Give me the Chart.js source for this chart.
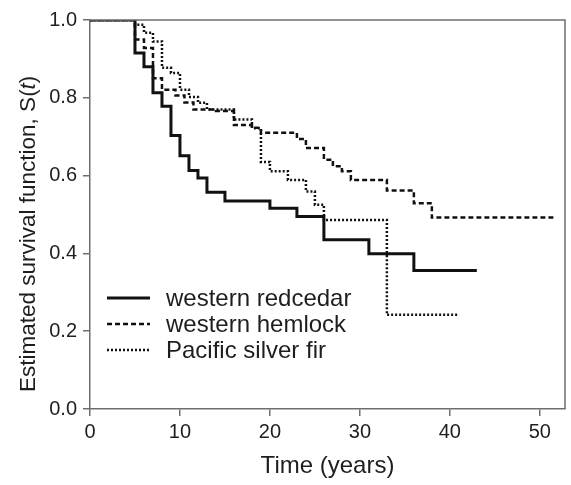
<!DOCTYPE html>
<html>
<head>
<meta charset="utf-8">
<script src="https://cdn.jsdelivr.net/npm/chart.js@4"></script>
<style>
  html, body { margin: 0; padding: 0; background: #fff; }
  #wrap { width: 571px; height: 485px; }
</style>
</head>
<body>
<div id="wrap"><canvas id="survivalChart"></canvas></div>
<script>
// Kaplan-Meier estimates (time in years, survival S)
const redcedarT = [0, 5, 6, 7, 8, 9, 10, 11, 12, 13, 15, 20, 23, 26, 31, 36, 43];
const redcedarS = [1, 0.915, 0.88, 0.813, 0.778, 0.703, 0.651, 0.613, 0.594, 0.557, 0.535, 0.516, 0.495, 0.435, 0.399, 0.356, 0.356];

const hemlockT = [0, 5, 6, 7, 8, 9.5, 10.5, 11.5, 14, 16, 18, 19, 23, 24, 26, 27, 28, 29, 33, 36, 38, 51.7];
const hemlockS = [1, 0.95, 0.928, 0.85, 0.821, 0.806, 0.788, 0.77, 0.766, 0.73, 0.723, 0.71, 0.694, 0.671, 0.641, 0.624, 0.611, 0.589, 0.562, 0.529, 0.492, 0.492];

const silverFirT = [0, 5, 6, 7, 8, 9, 10, 11, 12, 13, 16, 18, 19, 20, 22, 24, 25, 26, 33, 41];
const silverFirS = [1, 0.988, 0.967, 0.945, 0.877, 0.864, 0.821, 0.802, 0.787, 0.77, 0.744, 0.722, 0.635, 0.611, 0.589, 0.559, 0.525, 0.486, 0.242, 0.242];

const seriesNames = ['western redcedar', 'western hemlock', 'Pacific silver fir'];
const xTicks = [0, 10, 20, 30, 40, 50];
const yTicks = [0, 0.2, 0.4, 0.6, 0.8, 1.0];

const toPoints = (ts, ss) => ts.map((t, i) => ({ x: t, y: ss[i] }));

const fontFamily = 'Arial, "Liberation Sans", Helvetica, sans-serif';
const textColor = '#1e1e1e';
const axisColor = '#6e6e6e';

// frame around the plot + legend + y title with italic t
const extrasPlugin = {
    id: 'extras',
    afterDraw(chart) {
        const { ctx, chartArea } = chart;
        ctx.save();
        ctx.strokeStyle = axisColor;
        ctx.lineWidth = 1.5;
        ctx.beginPath();
        ctx.moveTo(chartArea.left, chartArea.top);
        ctx.lineTo(chartArea.right, chartArea.top);
        ctx.lineTo(chartArea.right, chartArea.bottom);
        ctx.stroke();

        // legend
        ctx.font = '24px ' + fontFamily;
        ctx.fillStyle = textColor;
        ctx.textBaseline = 'middle';
        ctx.textAlign = 'left';
        chart.data.datasets.forEach((ds, i) => {
            const y = chartArea.top + 278 + i * 26;
            ctx.strokeStyle = ds.borderColor;
            ctx.lineWidth = ds.borderWidth;
            ctx.setLineDash(ds.borderDash || []);
            ctx.beginPath();
            ctx.moveTo(chartArea.left + 17, y);
            ctx.lineTo(chartArea.left + 60, y);
            ctx.stroke();
            ctx.setLineDash([]);
            ctx.fillText(ds.label, chartArea.left + 76, y + 1);
        });

        // y axis title, drawn from its bottom end upwards
        const parts = [
            { text: 'Estimated survival function, S(', font: '22.5px ' + fontFamily },
            { text: 't', font: 'italic 22.5px ' + fontFamily },
            { text: ')', font: '22.5px ' + fontFamily }
        ];
        ctx.translate(29, 392);
        ctx.rotate(-Math.PI / 2);
        ctx.textBaseline = 'middle';
        ctx.textAlign = 'left';
        let x = 0;
        parts.forEach(p => {
            ctx.font = p.font;
            ctx.fillText(p.text, x, 0);
            x += ctx.measureText(p.text).width;
        });
        ctx.restore();
    }
};

const data = {
    datasets: [
        {
            label: seriesNames[0],
            data: toPoints(redcedarT, redcedarS),
            borderColor: '#111',
            borderWidth: 3,
            stepped: 'before'
        },
        {
            label: seriesNames[1],
            data: toPoints(hemlockT, hemlockS),
            borderColor: '#111',
            borderWidth: 2.5,
            borderDash: [5, 3],
            stepped: 'before'
        },
        {
            label: seriesNames[2],
            data: toPoints(silverFirT, silverFirS),
            borderColor: '#111',
            borderWidth: 2.5,
            borderDash: [2, 2],
            stepped: 'before'
        }
    ]
};

const config = {
    type: 'line',
    data: data,
    options: {
        responsive: true,
        maintainAspectRatio: false,
        animation: false,
        layout: { padding: { left: 0, top: 20, right: 6, bottom: 0 } },
        elements: { point: { radius: 0 } },
        plugins: {
            legend: { display: false },
            tooltip: { enabled: false }
        },
        scales: {
            x: {
                type: 'linear',
                min: 0,
                max: 52.8,
                afterFit: (scale) => { scale.height = 76; },
                afterBuildTicks: (scale) => { scale.ticks = xTicks.map(v => ({ value: v })); },
                border: { display: true, color: axisColor, width: 1.5 },
                grid: { drawOnChartArea: false, drawTicks: true, tickLength: 7, color: axisColor, lineWidth: 1.5 },
                ticks: {
                    color: textColor,
                    font: { family: fontFamily, size: 20 },
                    padding: 4,
                    maxRotation: 0
                },
                title: {
                    display: true,
                    text: 'Time (years)',
                    color: textColor,
                    font: { family: fontFamily, size: 24 },
                    padding: { top: 4 }
                }
            },
            y: {
                type: 'linear',
                min: 0,
                max: 1,
                afterFit: (scale) => { scale.width = 90; },
                afterBuildTicks: (scale) => { scale.ticks = yTicks.map(v => ({ value: v })); },
                border: { display: true, color: axisColor, width: 1.5 },
                grid: { drawOnChartArea: false, drawTicks: true, tickLength: 7, color: axisColor, lineWidth: 1.5 },
                ticks: {
                    color: textColor,
                    font: { family: fontFamily, size: 20 },
                    padding: 6,
                    callback: (v) => v.toFixed(1)
                }
            }
        }
    },
    plugins: [extrasPlugin]
};

new Chart(document.getElementById('survivalChart'), config);
</script>
</body>
</html>
